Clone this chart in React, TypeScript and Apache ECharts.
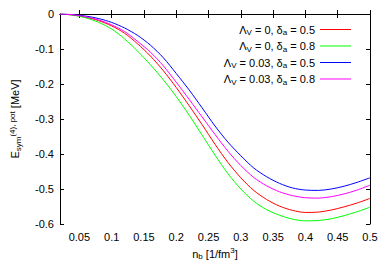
import React, { useEffect, useRef } from "react";
import * as echarts from "echarts";

const nb = [0.02, 0.04, 0.06, 0.08, 0.1, 0.12, 0.14, 0.16, 0.18, 0.2, 0.22, 0.24, 0.26, 0.28, 0.3, 0.32, 0.34, 0.36, 0.38, 0.4, 0.42, 0.44, 0.46, 0.48, 0.5];

// Λ_V = 0, δ_a = 0.5 (red)
const redVals = [0, -0.003, -0.009, -0.019, -0.034, -0.055, -0.085, -0.12, -0.162, -0.21, -0.262, -0.316, -0.372, -0.424, -0.468, -0.504, -0.53, -0.549, -0.561, -0.567, -0.566, -0.56, -0.551, -0.54, -0.527];
// Λ_V = 0, δ_a = 0.8 (green)
const greenVals = [0, -0.003, -0.011, -0.024, -0.043, -0.071, -0.106, -0.145, -0.188, -0.236, -0.289, -0.346, -0.403, -0.456, -0.5, -0.535, -0.559, -0.575, -0.586, -0.591, -0.59, -0.585, -0.576, -0.565, -0.552];
// Λ_V = 0.03, δ_a = 0.5 (blue)
const blueVals = [0, -0.002, -0.006, -0.013, -0.024, -0.04, -0.061, -0.089, -0.125, -0.17, -0.217, -0.268, -0.32, -0.366, -0.405, -0.44, -0.465, -0.484, -0.497, -0.503, -0.504, -0.5, -0.492, -0.481, -0.468];
// Λ_V = 0.03, δ_a = 0.8 (magenta)
const magentaVals = [0, -0.002, -0.008, -0.017, -0.031, -0.05, -0.078, -0.109, -0.148, -0.195, -0.244, -0.294, -0.344, -0.392, -0.433, -0.467, -0.491, -0.508, -0.519, -0.525, -0.526, -0.522, -0.514, -0.503, -0.489];

const lambdaV = ["0", "0", "0.03", "0.03"];
const deltaA = ["0.5", "0.8", "0.5", "0.8"];
const colors = ["#ff0000", "#00ff00", "#0000ff", "#ff00ff"];
const seriesVals = [redVals, greenVals, blueVals, magentaVals];

const xTicks = [0.05, 0.1, 0.15, 0.2, 0.25, 0.3, 0.35, 0.4, 0.45, 0.5];
const xMin = 0.02;
const xMax = 0.5;
const yMin = -0.6;
const yMax = 0;
const yStep = 0.1;

const FONT = "Liberation Sans, Arial, sans-serif";

const richScript = {
  t: { fontSize: 11, fontFamily: FONT, color: "#000", lineHeight: 14 },
  s: { fontSize: 8, fontFamily: FONT, color: "#000", lineHeight: 8, verticalAlign: "bottom" },
  p: { fontSize: 8, fontFamily: FONT, color: "#000", lineHeight: 8, verticalAlign: "top" },
};

export default function App() {
  const ref = useRef<HTMLDivElement>(null);
  useEffect(() => {
    if (!ref.current) return;
    const chart = echarts.init(ref.current, undefined, { renderer: "svg" });
    const names = lambdaV.map((l, i) => `Λ_V = ${l}, δ_a = ${deltaA[i]}`);
    const tickStyle = { show: true, inside: true, length: 4, lineStyle: { color: "#000", width: 1 } };
    const axisLineStyle = { show: true, lineStyle: { color: "#000", width: 1 } };
    chart.setOption({
      animation: false,
      textStyle: { fontFamily: FONT },
      grid: { left: 58, right: 22, top: 14, bottom: 51 },
      legend: {
        orient: "vertical",
        right: 36,
        top: 19,
        align: "right",
        icon: "rect",
        itemWidth: 31,
        itemHeight: 1,
        itemGap: 4,
        textStyle: { fontSize: 11, fontFamily: FONT, color: "#000", rich: richScript },
        formatter: (name: string) => {
          const i = names.indexOf(name);
          return `{t|Λ}{s|V}{t| = ${lambdaV[i]}, δ}{s|a}{t| = ${deltaA[i]}}`;
        },
        data: names,
      },
      xAxis: [
        {
          type: "value",
          min: xMin,
          max: xMax,
          axisLine: axisLineStyle,
          axisTick: { ...tickStyle, customValues: xTicks },
          splitLine: { show: false },
          axisLabel: {
            customValues: xTicks,
            margin: 7,
            fontSize: 11,
            fontFamily: FONT,
            color: "#000",
            formatter: (v: number) => String(parseFloat(v.toFixed(2))),
          },
          name: "{t|n}{s|b}{t| [1/fm}{p|3}{t|]}",
          nameLocation: "middle",
          nameGap: 21,
          nameTextStyle: { rich: richScript },
        },
        {
          type: "value",
          position: "top",
          min: xMin,
          max: xMax,
          axisLine: axisLineStyle,
          axisTick: { ...tickStyle, customValues: xTicks },
          axisLabel: { show: false },
          splitLine: { show: false },
        },
      ],
      yAxis: [
        {
          type: "value",
          min: yMin,
          max: yMax,
          interval: yStep,
          axisLine: axisLineStyle,
          axisTick: tickStyle,
          splitLine: { show: false },
          axisLabel: { margin: 6, fontSize: 11, fontFamily: FONT, color: "#000" },
          name: "{t|E}{s|sym}{p|(4), pot}{t| [MeV]}",
          nameLocation: "middle",
          nameRotate: 90,
          nameGap: 38,
          nameTextStyle: { rich: richScript },
        },
        {
          type: "value",
          position: "right",
          min: yMin,
          max: yMax,
          interval: yStep,
          axisLine: axisLineStyle,
          axisTick: tickStyle,
          axisLabel: { show: false },
          splitLine: { show: false },
        },
      ],
      series: seriesVals.map((vals, i) => ({
        name: names[i],
        type: "line",
        xAxisIndex: 0,
        yAxisIndex: 0,
        smooth: 0.3,
        showSymbol: false,
        symbol: "none",
        color: colors[i],
        lineStyle: { color: colors[i], width: 1 },
        data: nb.map((x, j) => [x, vals[j]]),
      })),
    });
    return () => chart.dispose();
  }, []);
  return (
    <div
      ref={ref}
      style={{ position: "fixed", left: 0, top: 0, width: 392, height: 275, background: "#fff" }}
    />
  );
}
